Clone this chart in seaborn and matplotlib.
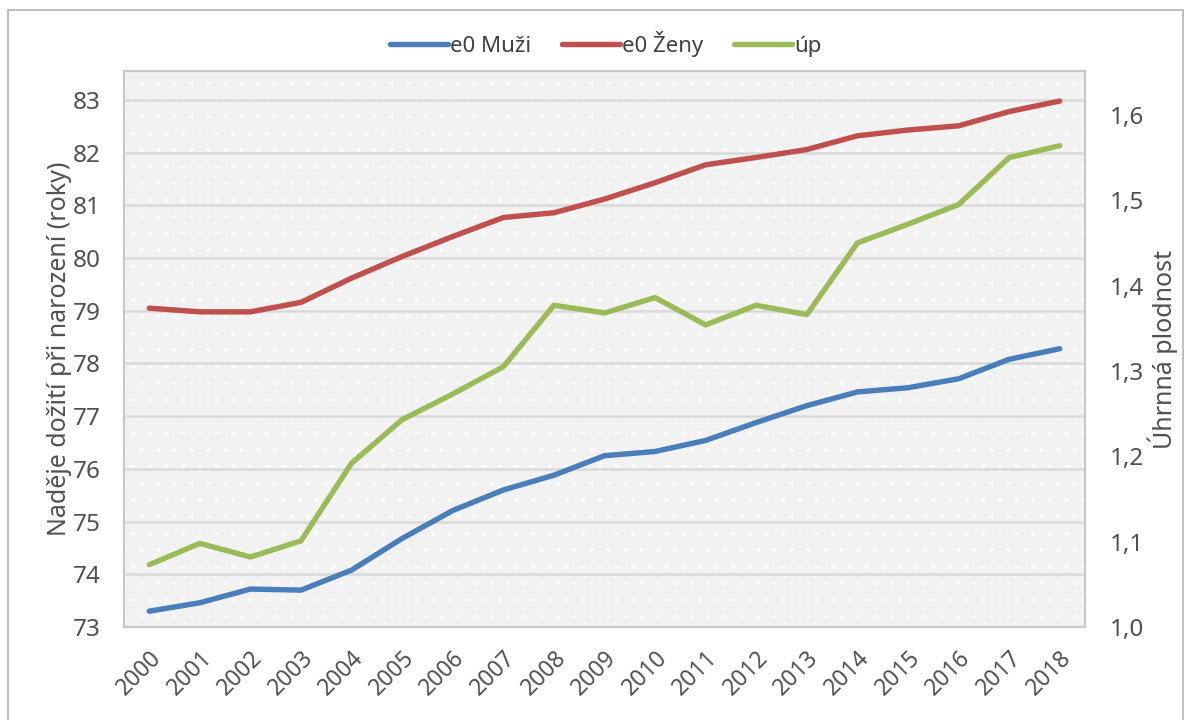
import matplotlib
matplotlib.use("Agg")
import matplotlib.pyplot as plt
from matplotlib.patches import Rectangle
from matplotlib.ticker import FuncFormatter
import seaborn as sns
import pandas as pd

# %% Data ----
years = list(range(2000, 2019))
e0_muzi = [73.30, 73.46, 73.72, 73.70, 74.08, 74.68, 75.21, 75.60, 75.88, 76.25,
           76.33, 76.54, 76.88, 77.20, 77.46, 77.54, 77.71, 78.08, 78.28]
e0_zeny = [79.05, 78.98, 78.98, 79.16, 79.62, 80.03, 80.41, 80.77, 80.86, 81.12,
           81.43, 81.77, 81.91, 82.06, 82.32, 82.43, 82.51, 82.78, 82.98]
up = [1.073, 1.098, 1.082, 1.101, 1.192, 1.243, 1.273, 1.305, 1.377, 1.368,
      1.386, 1.354, 1.377, 1.366, 1.450, 1.472, 1.495, 1.550, 1.564]

left_ticks = list(range(73, 84))
right_ticks = [1.0, 1.1, 1.2, 1.3, 1.4, 1.5, 1.6]

df = pd.DataFrame({'rok': [str(y) for y in years], 'e0 Muži': e0_muzi,
                   'e0 Ženy': e0_zeny, 'úp': up})

# %% Style ----
sns.set_theme(style='white')
plt.rcParams['font.family'] = ['Noto Sans', 'DejaVu Sans']
plt.rcParams['hatch.linewidth'] = 0.8
text_col = '#505050'
fw = 'medium'
c_blue, c_red, c_green = '#4a7ebb', '#c0504d', '#9bbb59'

fig = plt.figure(figsize=(11.88, 7.2), dpi=100)
fig.patch.set_facecolor('white')
# chart frame
fig.patches.append(Rectangle((8 / 1188, -0.05), 1175 / 1188, 1.05 - 10 / 720,
                             transform=fig.transFigure, facecolor='none',
                             edgecolor='#bfbfbf', lw=1.5))

ax = fig.add_axes([124 / 1188, 1 - 627 / 720, (1085 - 124) / 1188, (627 - 71) / 720])
ax.set_facecolor('#f2f2f2')
ax.add_patch(Rectangle((0, 0), 1, 1, transform=ax.transAxes, facecolor='#f2f2f2',
                       edgecolor='#fcfcfc', hatch='.', lw=0, zorder=0))

sns.lineplot(data=df, x='rok', y='e0 Muži', ax=ax, color=c_blue, lw=3.9,
             label='e0 Muži', legend=False, sort=False, zorder=3)
sns.lineplot(data=df, x='rok', y='e0 Ženy', ax=ax, color=c_red, lw=3.9,
             label='e0 Ženy', legend=False, sort=False, zorder=3)

ax2 = ax.twinx()
sns.lineplot(data=df, x='rok', y='úp', ax=ax2, color=c_green, lw=3.9,
             label='úp', legend=False, sort=False, zorder=3)

ax.set_xlim(-0.5, len(years) - 0.5)
ax.set_ylim(73, 83.55)
ax.set_yticks(left_ticks)
ax2.set_ylim(1.0, 1.6515)
ax2.set_yticks(right_ticks)
ax2.yaxis.set_major_formatter(FuncFormatter(lambda v, p: f'{v:.1f}'.replace('.', ',')))

ax.grid(axis='y', color='#d9d9d9', lw=1.8)
ax.grid(axis='x', visible=False)
ax2.grid(False)
ax.set_axisbelow(True)

for a in (ax, ax2):
    for s in a.spines.values():
        s.set_color('#c8c8c8')
        s.set_linewidth(1.5)
    a.tick_params(length=0, colors=text_col, labelsize=17.5)
    for lab in a.get_xticklabels() + a.get_yticklabels():
        lab.set_fontweight(fw)

ax.tick_params(axis='y', pad=17)
ax2.tick_params(axis='y', pad=18)
ax.tick_params(axis='x', pad=14, labelsize=16.5)
for lab in ax.get_xticklabels():
    lab.set_rotation(45)
    lab.set_ha('right')
    lab.set_rotation_mode('anchor')

ax.set_xlabel('')
ax.set_ylabel('Naděje dožití při narození (roky)', fontsize=18, color=text_col,
              labelpad=0, fontweight=fw)
ax2.set_ylabel('Úhrnná plodnost', fontsize=18, color=text_col, labelpad=2,
               fontweight=fw)

h1, l1 = ax.get_legend_handles_labels()
h2, l2 = ax2.get_legend_handles_labels()
fig.legend(h1 + h2, l1 + l2, loc='center', bbox_to_anchor=(0.51, 1 - 44 / 720),
           ncol=3, frameon=False, handlelength=2.6, handletextpad=0.1,
           columnspacing=1.4, labelcolor='#404040', prop={'weight': fw, 'size': 16})

fig.savefig('out.png', dpi=100)
